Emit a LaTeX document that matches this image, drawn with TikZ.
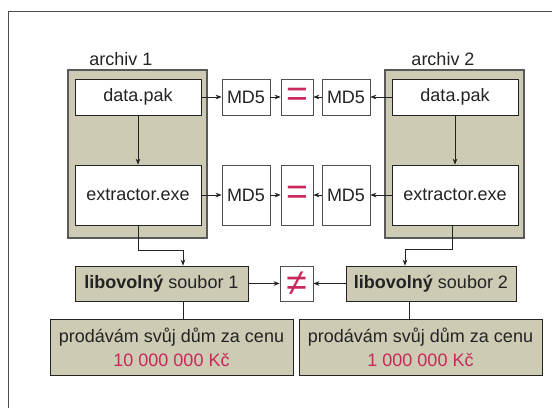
\documentclass[tikz,border=0pt]{standalone}
\usepackage{fontspec}
\setmainfont{Liberation Sans}
\usetikzlibrary{arrows.meta}
\definecolor{tan}{RGB}{206,203,180}
\definecolor{cred}{RGB}{200,40,90}
\definecolor{ink}{RGB}{35,35,35}
\tikzset{
  every node/.style={text=ink,font=\fontsize{13.5}{16}\selectfont,inner sep=0pt},
  archbox/.style={draw=ink!75,fill=tan,line width=0.8pt},
  filebox/.style={draw=ink,fill=white,line width=0.6pt,minimum width=94.5pt,minimum height=27pt},
  hashbox/.style={draw=ink!80,fill=white,line width=0.6pt,minimum width=36pt,minimum height=27pt},
  cmpbox/.style={draw=ink!80,fill=white,line width=0.6pt,minimum width=24pt,minimum height=27pt},
  tall/.style={minimum height=45pt},
  srcbox/.style={draw=ink,fill=tan,line width=0.6pt,minimum height=26.25pt},
  pricebox/.style={draw=ink,fill=tan,line width=0.6pt,minimum width=182.25pt,minimum height=42pt,align=center},
  arr/.style={draw=ink,line width=0.5pt,-{Stealth[length=4.5pt,width=3.5pt]}},
  link/.style={draw=ink,line width=0.5pt}
}
\begin{document}
\begin{tikzpicture}[x=0.75pt,y=0.75pt,yscale=-1,xscale=1]
\useasboundingbox (0,0) rectangle (552,408);
% outer frame
\draw [ink!80,line width=0.6pt] (552,11) -- (8,11) -- (8,408);
% archives
\draw [archbox] (68,70) rectangle (207,238);
\draw [archbox] (385,70) rectangle (524,238);
\node (lab1) at (121,59) {archiv 1};
\node (lab2) at (443,59) {archiv 2};
% files
\node [filebox] (data1) at (138,97) {data.pak};
\node [filebox,tall] (ex1) at (138,195) {extractor.exe};
\node [filebox] (data2) at (455,97) {data.pak};
\node [filebox,tall] (ex2) at (455,195) {extractor.exe};
% hashes
\node [hashbox] (md5a) at (246,97) {MD5};
\node [cmpbox] (eqa) at (297,97) {\fontsize{28}{28}\selectfont\color{cred}=};
\node [hashbox] (md5b) at (346,97) {MD5};
\node [hashbox,tall] (md5c) at (246,195) {MD5};
\node [cmpbox,tall] (eqb) at (297,195) {\fontsize{28}{28}\selectfont\color{cred}=};
\node [hashbox,tall] (md5d) at (346,195) {MD5};
% extracted files
\node [srcbox,minimum width=129.75pt] (sou1) at (161.5,283.5) {\textbf{libovolný} soubor 1};
\node [cmpbox,minimum width=24.75pt,minimum height=26.25pt] (neq) at (296.5,283.5) {\fontsize{28}{28}\selectfont\color{cred}≠};
\node [srcbox,minimum width=127.5pt] (sou2) at (431,283.5) {\textbf{libovolný} soubor 2};
\node [pricebox] (price1) at (171.5,347) {prodávám svůj dům za cenu\\[2pt]\color{cred}10 000 000 Kč};
\node [pricebox] (price2) at (420.5,347) {prodávám svůj dům za cenu\\[2pt]\color{cred}1 000 000 Kč};
% connectors
\draw [arr] (data1) -- (ex1);
\draw [arr] (data2) -- (ex2);
\draw [arr] (data1) -- (md5a);
\draw [arr] (ex1) -- (md5c);
\draw [arr] (data2) -- (md5b);
\draw [arr] (ex2) -- (md5d);
\draw [arr] (md5a) -- (eqa);
\draw [arr] (md5b) -- (eqa);
\draw [arr] (md5c) -- (eqb);
\draw [arr] (md5d) -- (eqb);
\draw [arr] (sou1) -- (neq);
\draw [arr] (sou2) -- (neq);
\draw [arr] (ex1.south) -- ++(0,25) -| ([xshift=16.1pt]sou1.north);
\draw [arr] ([xshift=-2.25pt]ex2.south) -- ++(0,24) -| ([xshift=-19.5pt]sou2.north);
\coordinate (j1) at ([xshift=16.1pt]sou1.south);
\coordinate (j2) at ([xshift=-16.5pt]sou2.south);
\draw [link] (j1) -- (j1 |- price1.north);
\draw [link] (j2) -- (j2 |- price2.north);
\end{tikzpicture}
\end{document}
